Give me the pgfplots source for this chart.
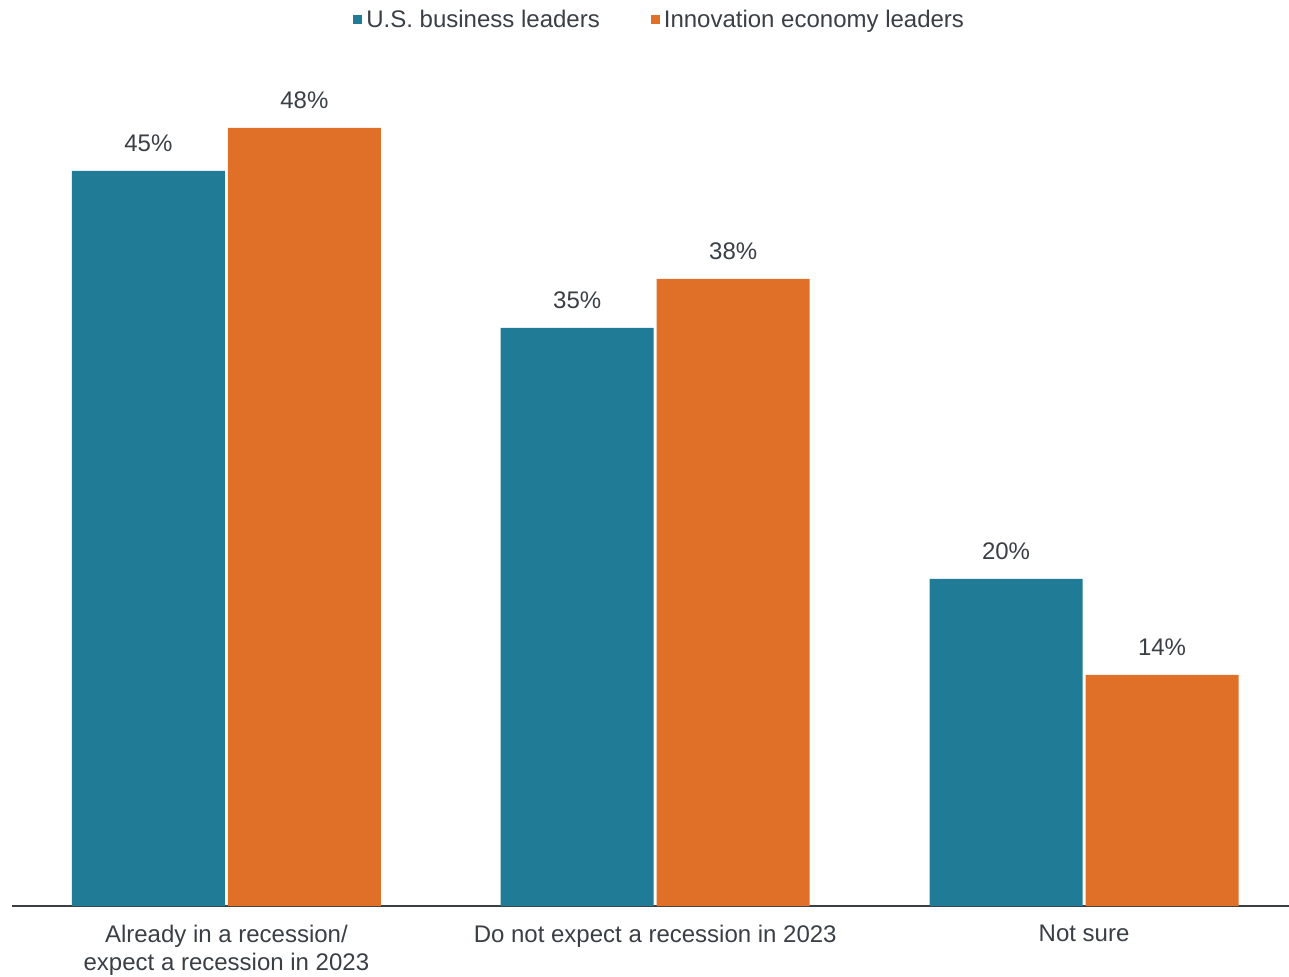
\documentclass[border=0pt]{standalone}
\usepackage{fontspec}
\setmainfont{Liberation Sans}
\usepackage{pgfplots}
\pgfplotsset{compat=1.18}
\definecolor{teal1}{HTML}{1F7B96}
\definecolor{orng}{HTML}{E06F28}
\definecolor{txt}{HTML}{3A3F45}
\begin{document}
\begin{tikzpicture}
\useasboundingbox (-6pt,-35pt) rectangle (638.5pt,453pt);
\begin{axis}[
  at={(0,0)}, anchor=south west,
  scale only axis,
  width=638.5pt, height=426.4pt,
  xmin=-0.5, xmax=2.478, ymin=0, ymax=51.68,
  axis x line*=bottom, axis y line=none,
  x axis line style={draw=txt, line width=1pt},
  ytick=\empty,
  xtick={0,1,2},
  xticklabels={{Already in a recession/\\expect a recession in 2023},{Do not expect a recession in 2023},{Not sure}},
  major tick length=0pt,
  xticklabel style={inner sep=0pt, anchor=north, yshift=-9.5pt, align=center, text=txt, font=\fontsize{12}{13.8}\selectfont},
  ybar, bar width=76.5pt,
  clip=false,
  point meta=explicit symbolic,
  nodes near coords={\pgfplotspointmeta},
  every node near coord/.append style={anchor=base, inner sep=0pt, yshift=9.5pt, text=txt, font=\fontsize{12}{14}\selectfont},
  legend style={at={(0.508,1.039)}, anchor=center, draw=none, fill=none, text=txt, font=\fontsize{12}{14}\selectfont, inner sep=0pt,
    /tikz/every even column/.append style={column sep=23.5pt}},
  legend columns=2,
  legend cell align=left,
  legend image code/.code={\fill[#1,draw=none] (-2pt,-2.25pt) rectangle (2.5pt,2.25pt);},
]
\addplot[fill=teal1, draw=none, bar shift=-39pt] coordinates {(0,44.55) [45\%] (1,35.03) [35\%] (2,19.82) [20\%]};
\addplot[fill=orng, draw=none, bar shift=39pt] coordinates {(0,47.15) [48\%] (1,38.0) [38\%] (2,14.0) [14\%]};
\legend{U.S. business leaders, Innovation economy leaders}
\end{axis}
\end{tikzpicture}
\end{document}
